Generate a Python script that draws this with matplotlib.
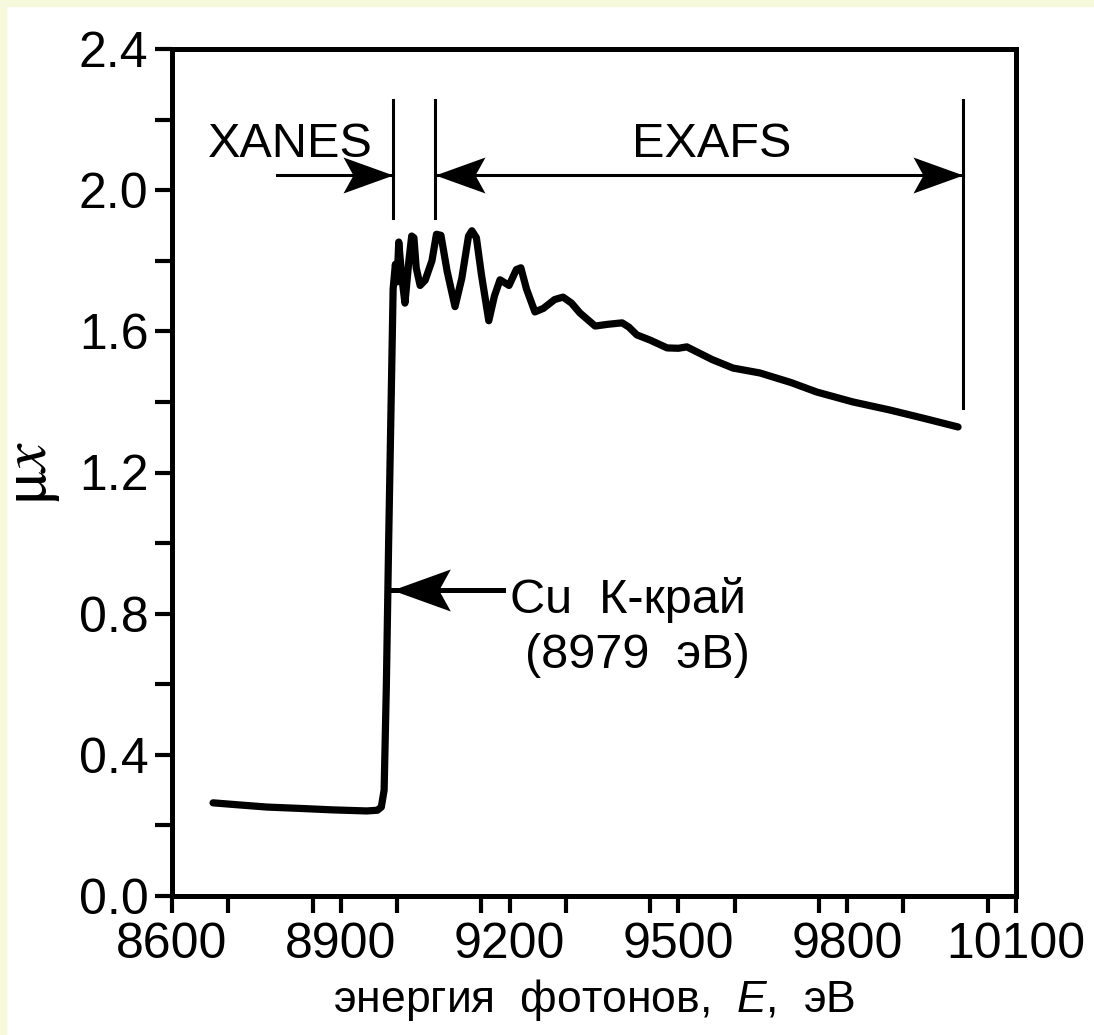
import matplotlib
matplotlib.use("Agg")
import matplotlib.pyplot as plt
from matplotlib.ticker import MultipleLocator, FormatStrFormatter
from matplotlib.patches import Rectangle
from matplotlib.path import Path

plt.rcParams['font.family'] = ['Liberation Sans', 'DejaVu Sans']
plt.rcParams['mathtext.fontset'] = 'custom'
plt.rcParams['mathtext.rm'] = 'Liberation Sans'
plt.rcParams['mathtext.it'] = 'Liberation Sans:italic'

# ---- data ----
energy = [8673, 8720, 8769, 8830, 8886, 8946, 8965, 8972, 8977, 8981, 8985, 8990,
          8993, 8997, 9000, 9003, 9008, 9014, 9021, 9026, 9030, 9034, 9041, 9050,
          9062, 9070, 9078, 9089, 9103, 9115, 9127, 9133, 9141, 9150, 9163, 9173,
          9183, 9199, 9212, 9220, 9230, 9245, 9260, 9280, 9295, 9310, 9325, 9352,
          9375, 9400, 9412, 9426, 9450, 9480, 9500, 9515, 9560, 9597, 9645, 9700,
          9746, 9810, 9876, 9940, 9997]
mux = [0.264, 0.258, 0.252, 0.248, 0.244, 0.241, 0.243, 0.252, 0.30, 0.60, 1.00, 1.45,
       1.72, 1.79, 1.74, 1.853, 1.76, 1.68, 1.80, 1.870, 1.865, 1.78, 1.73, 1.745,
       1.80, 1.875, 1.872, 1.77, 1.67, 1.75, 1.87, 1.885, 1.865, 1.76, 1.63, 1.70,
       1.746, 1.73, 1.775, 1.780, 1.72, 1.655, 1.665, 1.690, 1.697, 1.680, 1.652, 1.615,
       1.62, 1.624, 1.612, 1.59, 1.575, 1.553, 1.552, 1.556, 1.52, 1.496, 1.482, 1.455,
       1.428, 1.40, 1.377, 1.352, 1.329]

x_ticks = [8600, 8900, 9200, 9500, 9800, 10100]
y_ticks = [0.0, 0.4, 0.8, 1.2, 1.6, 2.0, 2.4]

region_marks = [8993, 9067, 10005]        # vertical marker lines (eV)
region_tops = [2.255, 2.255, 2.255]
region_bottoms = [1.921, 1.921, 1.383]
arrow_level = 2.043
xanes_arrow = (8786, 8993)
exafs_arrow = (9067, 10005)
edge_energy = 8979
edge_arrow = (9188, 8991, 0.867)

# notched arrowhead markers (tip at origin)
head_right = Path([(0, 0), (-1, 0.36), (-0.8, 0), (-1, -0.36), (0, 0)],
                  [Path.MOVETO, Path.LINETO, Path.LINETO, Path.LINETO, Path.CLOSEPOLY])
head_left = Path([(0, 0), (1, 0.36), (0.8, 0), (1, -0.36), (0, 0)],
                 [Path.MOVETO, Path.LINETO, Path.LINETO, Path.LINETO, Path.CLOSEPOLY])

fig = plt.figure(figsize=(10.94, 10.35), dpi=100)
fig.patch.set_facecolor('white')
# light yellow slide border strips
fig.add_artist(Rectangle((0, 1 - 6 / 1035), 1, 6 / 1035, transform=fig.transFigure,
                         color='#f6f9dc', zorder=0))
fig.add_artist(Rectangle((0, 0), 6 / 1094, 1, transform=fig.transFigure,
                         color='#f6f9dc', zorder=0))

ax = fig.add_axes([172 / 1094, 1 - 896 / 1035, (1016 - 172) / 1094, (896 - 49) / 1035])
ax.plot(energy, mux, color='black', lw=5.2, solid_joinstyle='round', solid_capstyle='round')

ax.set_xlim(8600, 10100)
ax.set_ylim(0, 2.4)
ax.set_xticks(x_ticks)
ax.set_yticks(y_ticks)
ax.xaxis.set_minor_locator(MultipleLocator(150))
ax.yaxis.set_minor_locator(MultipleLocator(0.2))
ax.yaxis.set_major_formatter(FormatStrFormatter('%.1f'))
for s in ax.spines.values():
    s.set_linewidth(3.6)
ax.tick_params(which='both', direction='out', length=12, width=3, labelsize=36,
               top=False, right=False)
ax.tick_params(axis='x', which='major', pad=7)
ax.tick_params(axis='y', which='major', pad=5)

ax.set_xlabel('энергия  фотонов,  $E$,  эВ', fontsize=32, labelpad=6)
ax.set_ylabel(r'$\mathrm{\mu}x$', fontsize=46, labelpad=12, math_fontfamily='stix')

# region marker lines
for e, t, b in zip(region_marks, region_tops, region_bottoms):
    ax.plot([e, e], [b, t], color='black', lw=2.2)

# XANES arrow
ax.plot(list(xanes_arrow), [arrow_level, arrow_level], color='black', lw=2.2)
ax.plot([xanes_arrow[1]], [arrow_level], marker=head_right, ms=72, color='black', mew=0)
# EXAFS double arrow
ax.plot(list(exafs_arrow), [arrow_level, arrow_level], color='black', lw=2.2)
ax.plot([exafs_arrow[0]], [arrow_level], marker=head_left, ms=72, color='black', mew=0)
ax.plot([exafs_arrow[1]], [arrow_level], marker=head_right, ms=72, color='black', mew=0)
# edge arrow
ax.plot([edge_arrow[0], edge_arrow[1]], [edge_arrow[2], edge_arrow[2]], color='black', lw=3.6)
ax.plot([edge_arrow[1]], [edge_arrow[2]], marker=head_left, ms=84, color='black', mew=0)

ax.text(8810, 2.094, 'XANES', fontsize=35, ha='center', va='baseline')
ax.text(9560, 2.094, 'EXAFS', fontsize=35, ha='center', va='baseline')
ax.text(9200, 0.802, 'Cu  К-край', fontsize=35, ha='left', va='baseline')
ax.text(9227, 0.646, f'({edge_energy}  эВ)', fontsize=35, ha='left', va='baseline')

fig.savefig('out.png', dpi=100, facecolor=fig.get_facecolor())
